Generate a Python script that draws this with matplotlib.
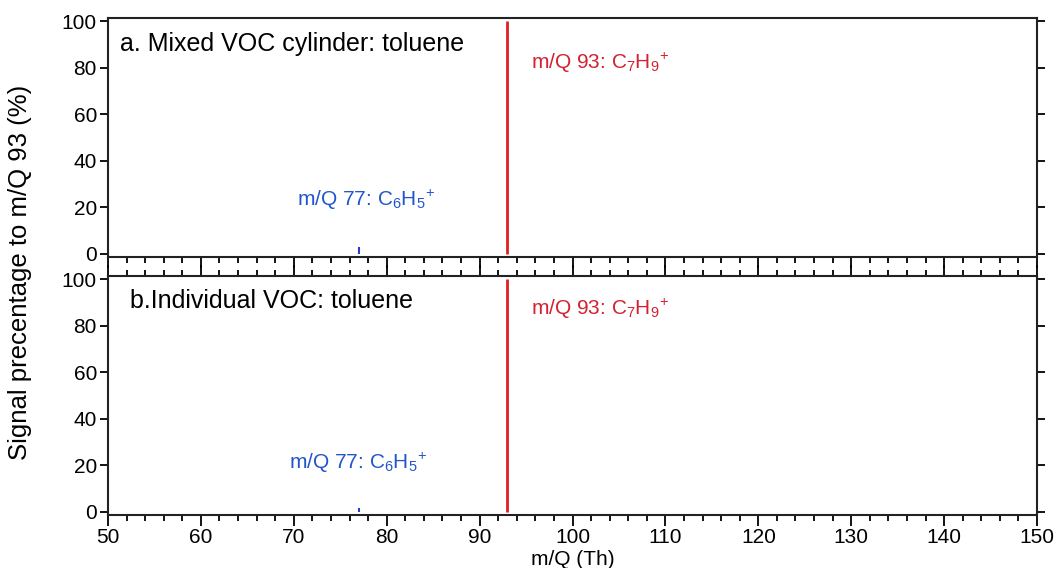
import matplotlib
matplotlib.use("Agg")
import matplotlib.pyplot as plt
from matplotlib.ticker import MultipleLocator

plt.rcParams["font.family"] = ["Liberation Sans", "DejaVu Sans"]
plt.rcParams["mathtext.fontset"] = "custom"
plt.rcParams["mathtext.rm"] = "Liberation Sans"
plt.rcParams["mathtext.it"] = "Liberation Sans"

# peaks (m/Q) and signal relative to m/Q 93 (%)
mz = [77, 93]
mixed_signal = [3, 100]
individual_signal = [1.5, 100]
peak_colors = ["#2a3fbf", "#e02020"]
peak_widths = [1.5, 2]

panel_titles = ["a. Mixed VOC cylinder: toluene", "b.Individual VOC: toluene"]
label_77 = r"m/Q 77: C$_6$H$_5$$^{+}$"
label_93 = r"m/Q 93: C$_7$H$_9$$^{+}$"

fig = plt.figure(figsize=(10.62, 5.68), dpi=100)
ax_top = fig.add_axes([0.1017, 0.5475, 0.8748, 0.4208])
ax_bot = fig.add_axes([0.1017, 0.0933, 0.8748, 0.4207])

blue_txt = "#2255cc"
red_txt = "#d42030"

for ax, sig, title, t77, t93, tpos in [
    (ax_top, mixed_signal, panel_titles[0], (70.3, 23), (95.5, 82), (51.3, 90)),
    (ax_bot, individual_signal, panel_titles[1], (69.5, 21), (95.5, 87), (52.4, 90.5)),
]:
    ax.vlines(mz, 0, sig, colors=peak_colors, linewidths=peak_widths)
    ax.set_xlim(50, 150)
    ax.set_ylim(-1.3, 101.3)
    ax.yaxis.set_major_locator(MultipleLocator(20))
    ax.xaxis.set_major_locator(MultipleLocator(10))
    ax.xaxis.set_minor_locator(MultipleLocator(2))
    for s in ax.spines.values():
        s.set_linewidth(1.5)
        s.set_color("#222222")
    ax.tick_params(axis="y", which="major", direction="out", length=6, width=1.3,
                   labelsize=15, left=True, right=True, pad=2)
    ax.tick_params(axis="x", which="major", direction="out", length=8, width=1.3,
                   labelsize=15, pad=1)
    ax.tick_params(axis="x", which="minor", direction="out", length=4, width=1.3)
    ax.text(tpos[0], tpos[1], title, fontsize=18, va="center", ha="left")
    ax.text(t77[0], t77[1], label_77, fontsize=15, color=blue_txt, va="center", ha="left")
    ax.text(t93[0], t93[1], label_93, fontsize=15, color=red_txt, va="center", ha="left")

ax_top.tick_params(axis="x", which="both", labelbottom=False)
ax_bot.tick_params(axis="x", which="both", top=True)

ax_bot.set_xlabel("m/Q (Th)", fontsize=15, va="center")
ax_bot.xaxis.set_label_coords(0.5, -0.185)
fig.text(0.019, 0.521, "Signal precentage to m/Q 93 (%)", rotation=90,
         fontsize=18.5, va="center", ha="center")

fig.savefig("out.png", dpi=100)
